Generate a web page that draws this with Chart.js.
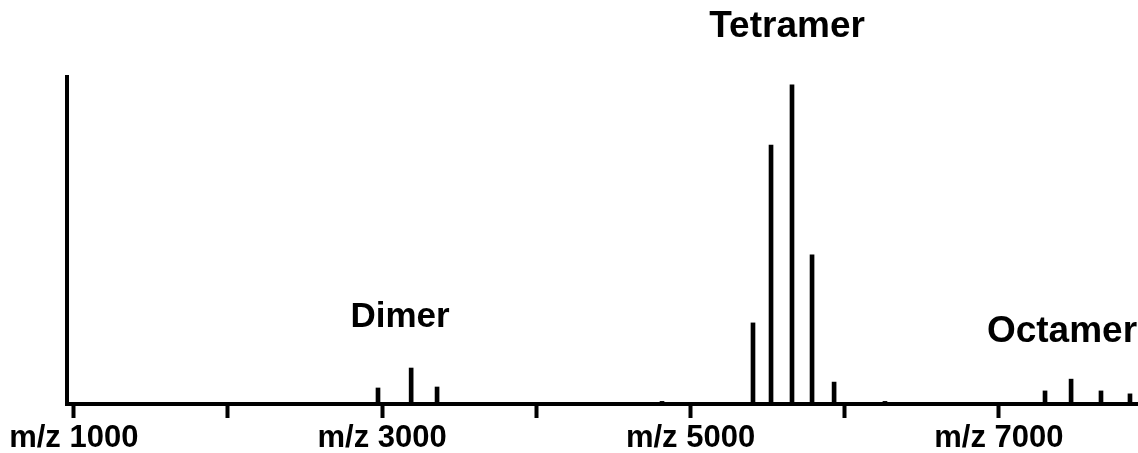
<!DOCTYPE html>
<html>
<head>
<meta charset="utf-8">
<script src="https://cdn.jsdelivr.net/npm/chart.js@4/dist/chart.umd.min.js"></script>
<style>
  html, body { margin: 0; padding: 0; background: #fff; }
  #spectrum { display: block; }
</style>
</head>
<body>
<canvas id="spectrum" width="1138" height="453"></canvas>
<script>
// peak positions (m/z) and relative intensities
const peakMz = [2973, 3188, 3356, 4815, 5405, 5522, 5658, 5788, 5931, 6261, 7299, 7468, 7662, 7850];
const peakIntensity = [4.9, 11.0, 5.2, 0.8, 24.8, 79.2, 97.6, 45.6, 6.7, 0.8, 4.0, 7.6, 4.0, 3.1];

// axis ticks
const tickValues = [1000, 2000, 3000, 4000, 5000, 6000, 7000];
const labeledTicks = [1000, 3000, 5000, 7000];
const mzMin = 956;
const mzMax = 7902;

// group names, anchored in data units
const groupNames = ['Dimer', 'Tetramer', 'Octamer'];
const groupMz = [3116, 5626, 7409];
const groupLevel = [23.5, 112.2, 19.0];

const FONT = '"Liberation Sans", Arial, sans-serif';
const groupFontSize = [35, 37, 37];

const groupLabels = {
    id: 'groupLabels',
    afterDraw(chart) {
        const { ctx, scales } = chart;
        ctx.save();
        ctx.fillStyle = '#000';
        ctx.textAlign = 'center';
        ctx.textBaseline = 'alphabetic';
        groupNames.forEach((name, i) => {
            ctx.font = 'bold ' + groupFontSize[i] + 'px ' + FONT;
            ctx.fillText(name, scales.x.getPixelForValue(groupMz[i]), scales.y.getPixelForValue(groupLevel[i]));
        });
        ctx.restore();
    }
};

new Chart(document.getElementById('spectrum'), {
    type: 'bar',
    data: {
        datasets: [{
            data: peakMz.map((mz, i) => ({ x: mz, y: peakIntensity[i] })),
            backgroundColor: '#000',
            borderWidth: 0,
            barThickness: 4
        }]
    },
    options: {
        responsive: false,
        animation: false,
        devicePixelRatio: 1,
        layout: { padding: { left: 67, top: 77, right: 0, bottom: 0 } },
        plugins: { legend: { display: false }, tooltip: { enabled: false } },
        scales: {
            x: {
                type: 'linear',
                offset: false,
                min: mzMin,
                max: mzMax,
                afterBuildTicks: s => { s.ticks = tickValues.map(v => ({ value: v })); },
                afterFit: s => { s.height = 49; },
                ticks: {
                    autoSkip: false,
                    maxRotation: 0,
                    padding: 2,
                    color: '#000',
                    font: { family: FONT, size: 31, weight: 'bold' },
                    callback: v => labeledTicks.includes(v) ? 'm/z ' + v : ''
                },
                grid: {
                    offset: false,
                    drawOnChartArea: false,
                    drawTicks: true,
                    tickLength: 14,
                    tickWidth: 4,
                    tickColor: '#000',
                    color: '#000'
                },
                border: { display: true, color: '#000', width: 4 }
            },
            y: {
                min: 0,
                max: 100,
                afterFit: s => { s.width = 0; },
                ticks: { display: false },
                grid: { drawOnChartArea: false, drawTicks: false },
                border: { display: true, color: '#000', width: 4 }
            }
        }
    },
    plugins: [groupLabels]
});
</script>
</body>
</html>
